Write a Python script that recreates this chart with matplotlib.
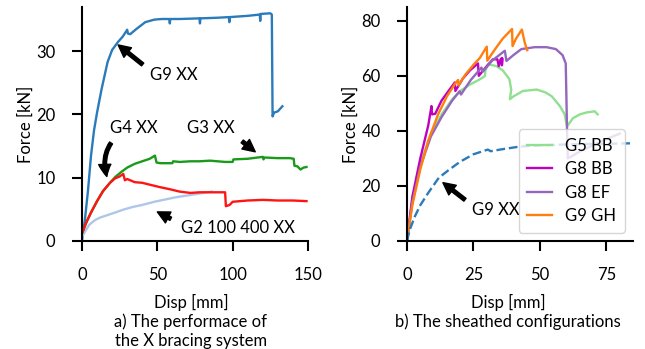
import matplotlib
matplotlib.use("Agg")
import matplotlib.pyplot as plt

plt.rcParams['font.family'] = ['Lato', 'DejaVu Sans']
plt.rcParams['font.size'] = 12

# ---- a) X bracing tests: displacement [mm] vs force [kN]
g9xx_disp = [0, 2, 4, 6, 8, 10, 13, 17, 20, 24, 27, 30, 30.5, 32, 36, 42, 48, 53, 58,
             58.3, 58.6, 65, 78, 78.3, 78.6, 90, 97.5, 97.8, 98.1, 110, 118, 118.3,
             118.6, 125, 126, 126.5, 127.5, 130, 133]
g9xx_force = [0, 3.5, 8, 13.5, 17.5, 20.3, 24, 28.3, 30.2, 31.5, 32.3, 33.4, 32.8, 32.7,
              33.5, 34.6, 35.0, 35.1, 35.1, 34.4, 35.1, 35.1, 35.2, 34.4, 35.2, 35.3,
              35.4, 34.6, 35.4, 35.6, 35.8, 34.8, 35.9, 36.0, 35.8, 19.7, 20.3, 20.5, 21.3]

g2_disp = [0, 2, 5, 8.6, 12, 17, 22, 28, 34, 40, 48, 56, 62, 70, 78, 86]
g2_force = [0.6, 1.5, 2.6, 3.3, 3.7, 4.1, 4.5, 5.0, 5.4, 5.7, 6.2, 6.6, 6.9, 7.2, 7.5, 7.8]

g3_disp = [0, 3, 6, 10, 14, 18.6, 22, 26, 30, 35, 40, 45, 48.4, 49.5, 52, 58, 60, 60.5,
           65, 72, 78, 85, 95, 100, 100.5, 110, 120, 120.5, 121, 130, 138, 140.5, 141,
           143, 145, 147, 149]
g3_force = [1.2, 3, 4.5, 6.3, 7.9, 9.2, 10.1, 10.9, 11.6, 12.2, 12.6, 13.0, 13.5, 12.4,
            12.3, 12.3, 12.3, 12.6, 12.5, 12.6, 12.6, 12.7, 12.5, 12.5, 12.9, 13.0, 13.3,
            12.9, 13.2, 13.1, 13.1, 13.0, 11.9, 11.8, 11.3, 11.6, 11.7]

g4_disp = [0, 3, 6, 10, 14, 18.6, 22, 25, 27.4, 28.5, 30, 35, 40, 45, 52, 58, 65, 72,
           78, 85, 90, 95, 95.5, 98, 100, 110, 120, 130, 140, 149]
g4_force = [1.2, 3, 4.5, 6.3, 7.9, 9.2, 9.9, 10.2, 10.6, 9.6, 9.8, 9.3, 9.2, 8.9, 8.5,
            8.2, 7.8, 7.6, 7.7, 7.7, 7.7, 7.7, 5.5, 5.7, 6.2, 6.4, 6.5, 6.4, 6.4, 6.3]

# ---- b) sheathed configurations
g5bb_disp = [0, 2, 5, 9, 13, 17, 20, 24, 27, 29.3, 29.5, 30.5, 33.7, 36, 38.5, 39.2,
             38.7, 40, 43.6, 48.8, 52, 54.4, 57.5, 59.3, 60.2, 62.4, 65, 67.6, 70.6, 71.7]
g5bb_force = [0, 15, 28, 39, 46, 51.5, 54.5, 57, 58.5, 59.9, 62, 64.2, 63.5, 62, 58.8,
              55, 51.5, 52.5, 54.5, 55, 54, 52.6, 49, 46, 41.6, 44.6, 46, 46.7, 47.1, 46]

g8bb_disp = [0, 2, 5, 8, 9.2, 9.4, 10.6, 13, 16, 18, 18.2, 21, 23.7, 26.7, 27, 30, 32.3,
             34, 34.5, 35.2, 35.7, 35.7, 35.9]
g8bb_force = [0, 16, 30, 42, 49, 46, 46.2, 51, 55, 57.6, 54.5, 59, 62, 64.5, 60, 63.5,
              66, 66, 63.5, 66, 66.5, 63.8, 66]

g8ef_disp = [0, 2, 5, 9, 13, 17, 19.8, 20.3, 24, 28, 28.5, 32, 36.8, 37.4, 40, 43, 48,
             52.5, 56, 58.5, 59.7, 60.2, 60.5, 65, 70, 75, 80]
g8ef_force = [0, 14, 27, 38, 45, 51, 54.4, 53.2, 58.5, 63, 61.5, 65.5, 69.1, 65.4, 67.5,
              69.7, 70.4, 70.4, 69.7, 67.5, 64.5, 40, 30, 32.5, 34.8, 37, 39]

g9gh_disp = [0, 2, 5, 8, 11.7, 15, 18, 19.2, 19.4, 22, 25, 27.4, 30, 30.2, 33, 36, 39.5,
             39.7, 41, 43.2, 44.3, 45.2]
g9gh_force = [0, 13, 26, 36.5, 46, 52.5, 57, 58.5, 56.5, 60.5, 64, 66.5, 70.6, 65.5,
              69.5, 73.5, 77, 70.8, 73.5, 76.8, 72, 69.3]

g9xx_b_disp = [0, 1, 3, 5, 8, 12, 16, 20, 25, 30.4, 31.5, 35, 42.4, 50, 58, 66, 75, 85]
g9xx_b_force = [0, 4, 9, 13, 17.5, 23, 26, 28.8, 31.5, 33.2, 32.6, 33.2, 34.3, 34.7,
                35.0, 35.2, 35.3, 35.5]

fig = plt.figure(figsize=(6.45, 3.49), dpi=100)
ax1 = fig.add_axes([0.1271, 0.3095, 0.3504, 0.6705])
ax2 = fig.add_axes([0.631, 0.3095, 0.3504, 0.6705])

lw = 1.7
ax1.plot(g9xx_disp, g9xx_force, color='#2b7bba', lw=lw)
ax1.plot(g2_disp, g2_force, color='#aec7e8', lw=lw)
ax1.plot(g3_disp, g3_force, color='#1a9a1a', lw=lw)
ax1.plot(g4_disp, g4_force, color='#ff1414', lw=lw)

ax2.plot(g5bb_disp, g5bb_force, color='#90e090', lw=lw, label='G5 BB')
ax2.plot(g8bb_disp, g8bb_force, color='#c000c0', lw=lw, label='G8 BB')
ax2.plot(g8ef_disp, g8ef_force, color='#9467bd', lw=lw, label='G8 EF')
ax2.plot(g9gh_disp, g9gh_force, color='#ff7f0e', lw=lw, label='G9 GH')
ax2.plot(g9xx_b_disp, g9xx_b_force, color='#2b7bba', lw=lw, ls='--')

arrow = dict(arrowstyle='simple,head_width=0.55,head_length=0.55,tail_width=0.16',
             color='black', shrinkA=4, shrinkB=0, mutation_scale=16)
ax1.annotate('G9 XX', xy=(24, 31), xytext=(45, 26.3), va='center',
             arrowprops=dict(arrow, relpos=(-0.05, 0.9)))
ax1.annotate('G4 XX', xy=(16.5, 10.2), xytext=(18.5, 17.9), va='center',
             arrowprops=dict(arrow, connectionstyle='arc3,rad=0.3', relpos=(0.15, 0.0)))
ax1.annotate('G3 XX', xy=(115, 14.1), xytext=(70, 17.9), va='center',
             arrowprops=dict(arrow, relpos=(1.0, 0.0)))
ax1.annotate('G2 100 400 XX', xy=(50, 4.6), xytext=(66, 2.1), va='center',
             arrowprops=dict(arrow, relpos=(-0.05, 0.9)))
ax2.annotate('G9 XX', xy=(13.5, 21.2), xytext=(24.5, 11.3), va='center',
             arrowprops=dict(arrow, relpos=(-0.05, 0.9)))

ax2.legend(loc='lower right', handlelength=1.5, framealpha=0.8, edgecolor='#cccccc',
           borderpad=0.5, labelspacing=0.45)

for ax in (ax1, ax2):
    for side in ('top', 'right'):
        ax.spines[side].set_visible(False)
    for side in ('left', 'bottom'):
        ax.spines[side].set_linewidth(1.5)
    ax.tick_params(width=1.5, length=7, pad=12)
    ax.set_ylabel('Force [kN]')
    ax.yaxis.set_label_coords(-0.215, 0.5)

ax1.set_xlim(0, 150)
ax1.set_ylim(0, 37)
ax1.set_xticks([0, 50, 100, 150])
ax1.set_yticks([0, 10, 20, 30])
ax1.set_xlabel('Disp [mm]\na) The performace of\nthe X bracing system')
ax1.xaxis.set_label_coords(0.482, -0.225)
ax1.xaxis.label.set_va('top')

ax2.set_xlim(0, 85)
ax2.set_ylim(0, 85)
ax2.set_xticks([0, 25, 50, 75])
ax2.set_yticks([0, 20, 40, 60, 80])
ax2.set_xlabel('Disp [mm]\nb) The sheathed configurations')
ax2.xaxis.set_label_coords(0.447, -0.225)
ax2.xaxis.label.set_va('top')

fig.savefig('out.png', dpi=100)
